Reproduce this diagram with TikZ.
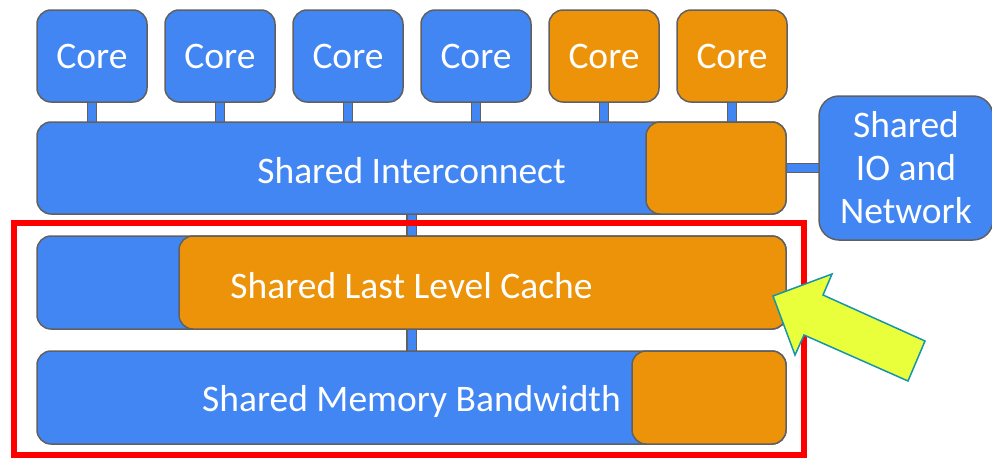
\documentclass[tikz,border=0pt]{standalone}
\usepackage{fontspec}
\setmainfont{Carlito}
\usetikzlibrary{backgrounds}
\definecolor{blueC}{RGB}{66,134,244}
\definecolor{orangeC}{RGB}{237,147,10}
\definecolor{edgeC}{RGB}{96,96,96}
\definecolor{arrowFill}{RGB}{234,255,59}
\definecolor{arrowEdge}{RGB}{20,150,170}
\begin{document}
\begin{tikzpicture}[x=1pt,y=-1pt,
  box/.style={draw=edgeC, line width=1.5pt, rounded corners=14pt, inner sep=0pt,
    text=white, font=\fontsize{37.5}{43}\selectfont, align=center},
  bluebox/.style={box, fill=blueC},
  orangebox/.style={box, fill=orangeC},
  corebox/.style={minimum width=110pt, minimum height=92pt},
  link/.style={draw=edgeC, line width=1.3pt, double=blueC, double distance=8pt},
  label/.style={text=white, font=\fontsize{37.5}{43}\selectfont, inner sep=0pt}
]
\useasboundingbox (0,0) rectangle (992,458);
% cores
\node[bluebox, corebox] (c1) at (92,56) {\raisebox{-2.5pt}{Core}};
\node[bluebox, corebox] (c2) at (220,56) {\raisebox{-2.5pt}{Core}};
\node[bluebox, corebox] (c3) at (348,56) {\raisebox{-2.5pt}{Core}};
\node[bluebox, corebox] (c4) at (476,56) {\raisebox{-2.5pt}{Core}};
\node[orangebox, corebox] (c5) at (604,56) {\raisebox{-2.5pt}{Core}};
\node[orangebox, corebox] (c6) at (732,56) {\raisebox{-2.5pt}{Core}};
% interconnect
\node[bluebox, minimum width=749pt, minimum height=92pt] (ic) at (411.5,168) {};
\node[orangebox, minimum width=140pt, minimum height=92pt] (ico) at (716,168) {};
\node[label] (ict) at (411.5,171) {Shared Interconnect};
% IO
\node[bluebox, rounded corners=20pt, minimum width=174pt, minimum height=144pt] (io) at (906,168) {\raisebox{-2pt}{\parbox{170pt}{\centering Shared\\IO and\\Network}}};
% LLC
\node[bluebox, minimum width=749pt, minimum height=93pt] (llc) at (411.5,282.5) {};
\node[orangebox, minimum width=607pt, minimum height=93pt] (llco) at (482.5,282.5) {};
\node[label] (llct) at (411.5,286) {Shared Last Level Cache};
% memory
\node[bluebox, minimum width=749pt, minimum height=93pt] (mem) at (411.5,397.5) {};
\node[orangebox, minimum width=154pt, minimum height=93pt] (memo) at (709,397.5) {};
\node[label] (memt) at (411.5,401) {Shared Memory Bandwidth};
% highlight box
\node[draw=red, line width=6pt, minimum width=790pt, minimum height=232pt, inner sep=0pt] (hl) at (409,339) {};
% links
\begin{pgfonlayer}{background}
\foreach \c in {c1,c2,c3,c4,c5,c6}{
  \draw[link] (\c.center) -- (\c |- ic.center);
}
\draw[link] (ico.center) -- (io.center);
\draw[link] (ic.center) -- (llc.center);
\draw[link] (llc.center) -- (mem.center);
\end{pgfonlayer}
% big arrow
\draw[fill=arrowFill, draw=arrowEdge, line width=1.5pt, line join=miter]
  (773,296) -- (832,274) -- (823,295) -- (925,341) -- (908,381) -- (804,335) -- (795,355) -- cycle;
\end{tikzpicture}
\end{document}
